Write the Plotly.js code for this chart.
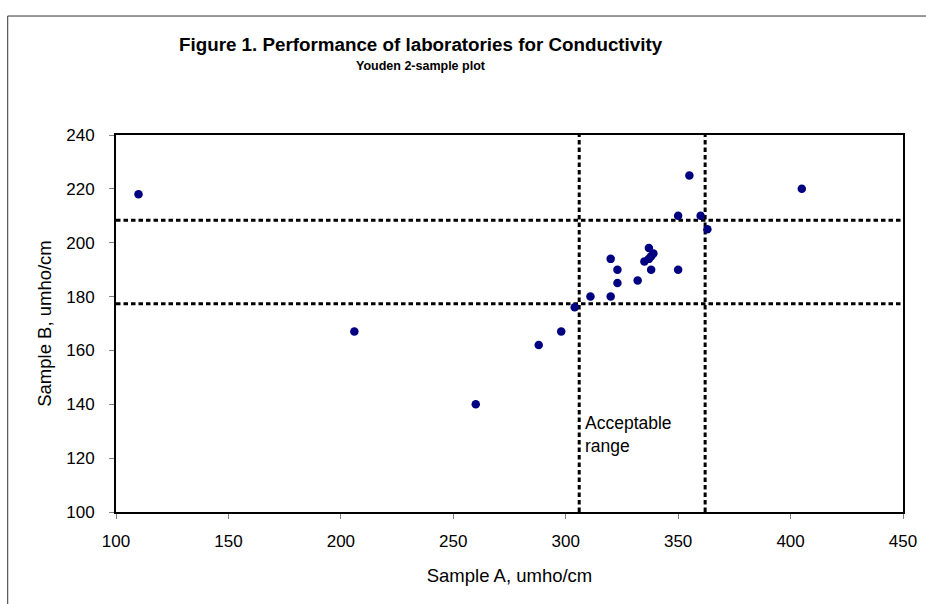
<!DOCTYPE html>
<html>
<head>
<meta charset="utf-8">
<script src="https://cdn.plot.ly/plotly-3.0.1.min.js"></script>
<style>html,body{margin:0;padding:0;background:#fff;}#chart{width:926px;height:604px;}</style>
</head>
<body>
<div id="chart"></div>
<script>
// Laboratory results (Sample A vs Sample B), umho/cm
const sampleA = [110, 206, 260, 288, 298, 304, 311, 320, 320, 323, 323, 332, 335, 337, 338, 337, 339, 338, 350, 350, 355, 360, 363, 405];
const sampleB = [218, 167, 140, 162, 167, 176, 180, 180, 194, 190, 185, 186, 193, 194, 195, 198, 196, 190, 190, 210, 225, 210, 205, 220];
// Acceptable range limits
const rangeA = [306, 362];
const rangeB = [177.3, 208.3];
// Axes
const xRange = [100, 450];
const yRange = [100, 240];
const xTicks = [100, 150, 200, 250, 300, 350, 400, 450];
const yTicks = [100, 120, 140, 160, 180, 200, 220, 240];

const FONT = "Liberation Sans, Arial, sans-serif";
const dashStyle = {color: "#000000", width: 3, dash: "4.5px,3px"};

const traces = [];
rangeB.forEach(b => traces.push({
  x: xRange, y: [b, b], mode: "lines", line: dashStyle, hoverinfo: "skip", showlegend: false
}));
rangeA.forEach(a => traces.push({
  x: [a, a], y: yRange, mode: "lines", line: dashStyle, hoverinfo: "skip", showlegend: false
}));
traces.push({
  x: sampleA, y: sampleB, mode: "markers", type: "scatter",
  marker: {color: "#000080", size: 8.5}, showlegend: false
});

const axisCommon = {
  showgrid: false, zeroline: false, showline: true, linecolor: "#000000", linewidth: 2,
  mirror: true, ticks: "outside", ticklen: 5, tickcolor: "#808080", tickwidth: 1,
  tickfont: {family: FONT, size: 17, color: "#000000"}, tickmode: "array"
};

const layout = {
  width: 926, height: 604,
  margin: {l: 116, r: 23, t: 135, b: 92, pad: 0},
  paper_bgcolor: "#ffffff", plot_bgcolor: "#ffffff",
  font: {family: FONT, color: "#000000"},
  xaxis: Object.assign({}, axisCommon, {
    range: xRange, tickvals: xTicks, ticktext: xTicks.map(String), ticklabelstandoff: 8,
    title: {text: "Sample A, umho/cm", font: {family: FONT, size: 18.5}, standoff: 19}
  }),
  yaxis: Object.assign({}, axisCommon, {
    range: yRange, tickvals: yTicks, ticktext: yTicks.map(String), ticklabelstandoff: 11,
    title: {text: "Sample B, umho/cm", font: {family: FONT, size: 18.5}, standoff: 10}
  }),
  annotations: [
    {text: "<b>Figure 1. Performance of laboratories for Conductivity</b>", xref: "paper", yref: "paper",
     x: 0.388, y: 1.241, xanchor: "center", yanchor: "middle", showarrow: false, font: {family: FONT, size: 18.8}},
    {text: "<b>Youden 2-sample plot</b>", xref: "paper", yref: "paper",
     x: 0.388, y: 1.183, xanchor: "center", yanchor: "middle", showarrow: false, font: {family: FONT, size: 12.5}},
    {text: "Acceptable<br>range", xref: "x", yref: "y", x: 307.5, y: 128.6, xanchor: "left", yanchor: "middle",
     align: "left", showarrow: false, font: {family: FONT, size: 17.5}}
  ],
  shapes: [
    {type: "line", xref: "paper", yref: "paper", x0: -0.1376, x1: 1.2, y0: 1.3156, y1: 1.3156, line: {color: "#333333", width: 1}},
    {type: "line", xref: "paper", yref: "paper", x0: -0.1376, x1: -0.1376, y0: 1.3156, y1: -0.4, line: {color: "#333333", width: 1}}
  ]
};

Plotly.newPlot("chart", traces, layout, {displayModeBar: false, staticPlot: true});
</script>
</body>
</html>
